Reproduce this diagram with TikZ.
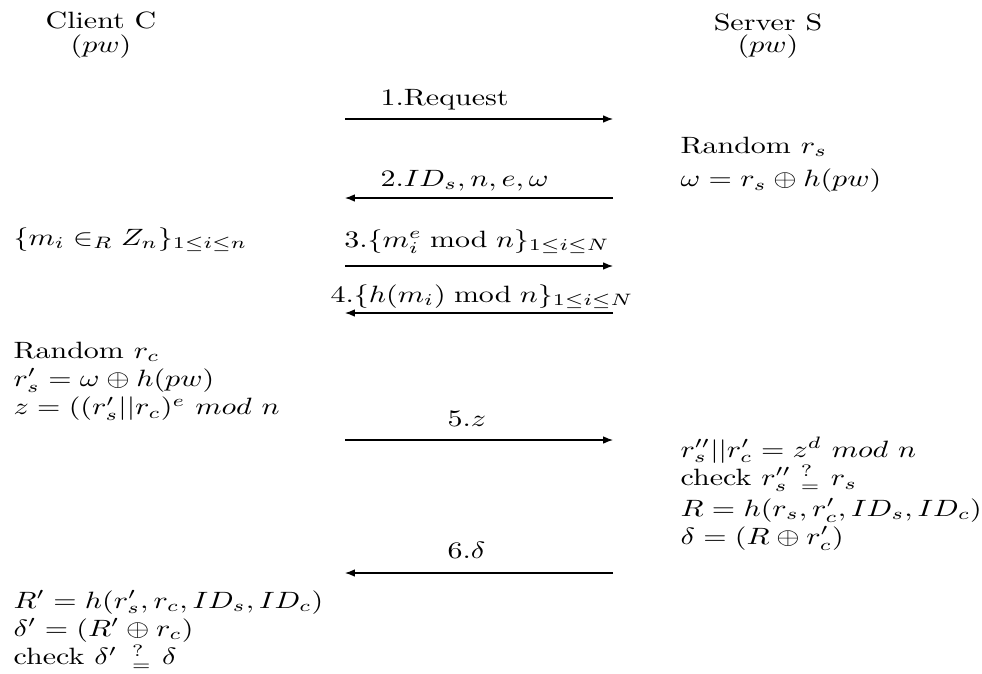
\documentclass[tikz,border=0pt]{standalone}
\usepackage{amsmath}
\usepackage{tikz}
\usetikzlibrary{arrows.meta}

\begin{document}
\begin{tikzpicture}[
  x=0.4237pt, y=-0.4237pt,
  txt/.style={inner sep=0pt, xscale=1.27, transform shape},
  blk/.style={txt, anchor=base west},
  hdr/.style={txt, anchor=base},
  lbl/.style={txt, anchor=base west},
  clbl/.style={txt, anchor=base},
  msg/.style={-{Latex[length=4.2pt,width=3.2pt]}, line width=0.45pt}
]
\useasboundingbox (0,0) rectangle (982,673);

% the two parties
\node[hdr] (client) at (101,28) {\begin{tabular}[t]{@{}c@{}}Client C\\[-1.8pt] $(pw)$\end{tabular}};
\node[hdr] (server) at (768,30) {\begin{tabular}[t]{@{}c@{}}Server S\\[-2.4pt] $(pw)$\end{tabular}};

% message end points
\coordinate (c1) at (345,119); \coordinate (s1) at (613,119);
\coordinate (c2) at (345,198); \coordinate (s2) at (613,198);
\coordinate (c3) at (345,266); \coordinate (s3) at (613,266);
\coordinate (c4) at (345,313); \coordinate (s4) at (613,313);
\coordinate (c5) at (345,440); \coordinate (s5) at (613,440);
\coordinate (c6) at (345,573); \coordinate (s6) at (613,573);

\draw[msg] (c1) -- (s1);
\draw[msg] (s2) -- (c2);
\draw[msg] (c3) -- (s3);
\draw[msg] (s4) -- (c4);
\draw[msg] (c5) -- (s5);
\draw[msg] (s6) -- (c6);

\node[lbl] (m1) at (380,105) {1.Request};
\node[lbl] (m2) at (380,186) {$2.ID_s, n, e, \omega$};
\node[clbl] (m3) at (477,247) {$3.\{m_i^e \bmod n\}_{1\le i\le N}$};
\node[clbl] (m4) at (482,302) {$4.\{h(m_i) \bmod n\}_{1\le i\le N}$};
\node[lbl] (m5) at (447,426) {$5.z$};
\node[lbl] (m6) at (447,558) {$6.\delta$};

% client side
\node[blk] (cm) at (13,245) {$\{m_i \in_R Z_n\}_{1\le i\le n}$};
\node[blk] (cz) at (13,358) {\begin{tabular}[t]{@{}l@{}}
  Random $r_c$\\
  $r'_s = \omega \oplus h(pw)$\\
  $z = ((r'_s||r_c)^e~mod~n$
\end{tabular}};
\node[blk] (cd) at (13,608) {\begin{tabular}[t]{@{}l@{}}
  $R' = h(r'_s, r_c, ID_s, ID_c)$\\
  $\delta' = (R' \oplus r_c)$\\
  check $\delta'\ \,{}^?_=\ \delta$
\end{tabular}};

% server side
\node[blk] (sw) at (680,153) {\begin{tabular}[t]{@{}l@{}}
  Random $r_s$\\[2.4pt]
  $\omega = r_s \oplus h(pw)$
\end{tabular}};
\node[blk] (sd) at (680,457) {\begin{tabular}[t]{@{}l@{}}
  $r''_s||r'_c = z^d~mod~n$\\
  check $r''_s\ {}^?_=\ r_s$\\[1pt]
  $R = h(r_s, r'_c, ID_s, ID_c)$\\
  $\delta = (R \oplus r'_c)$
\end{tabular}};

\end{tikzpicture}
\end{document}
